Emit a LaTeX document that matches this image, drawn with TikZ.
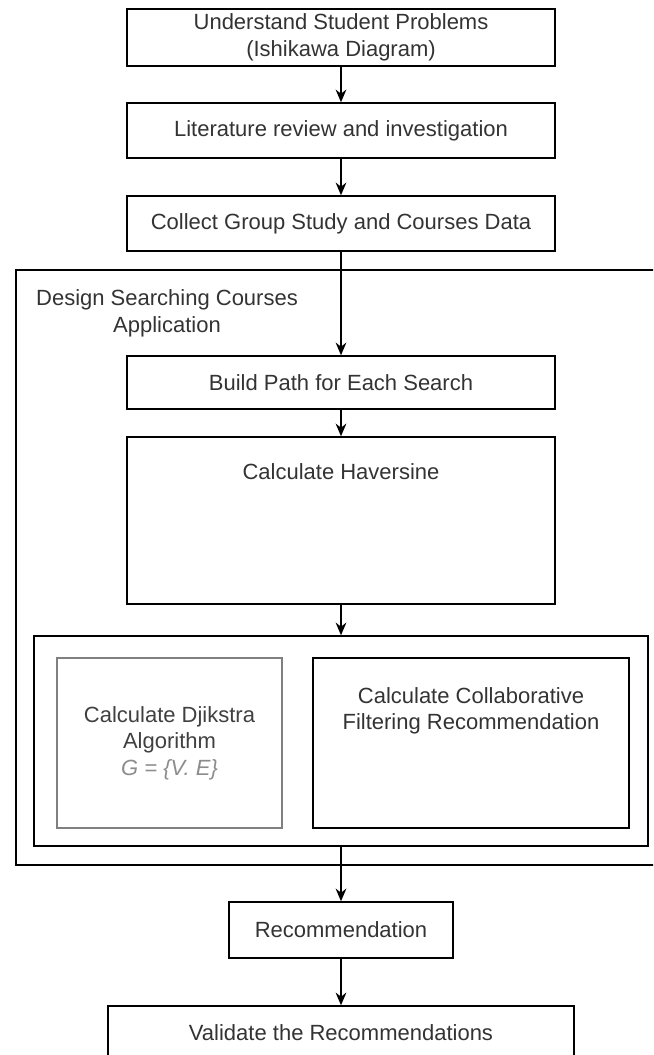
\documentclass[tikz,border=0pt]{standalone}
\usepackage{fontspec}
\setmainfont{Liberation Sans}
\usetikzlibrary{arrows.meta}
\begin{document}
\begin{tikzpicture}[x=0.75pt,y=-0.75pt]
        \tikzset{every node/.style={font=\fontsize{16.5}{20}\selectfont},
            box/.style={draw,line width=1.1pt,rectangle,minimum width=321pt,align=center,text=black!80,inner sep=0pt},
            frame/.style={draw,line width=1.1pt,rectangle,inner sep=0pt},
            grey box/.style={box,draw=black!50,line width=1.7pt,text=black!75},
            arrow/.style={draw,line width=1.1pt,-{Stealth[length=9.5pt,width=8pt]}}}
        \useasboundingbox (0,0) rectangle (653,1055);
        \clip (0,0) rectangle (653,1055);
        % frames
        \node[frame,minimum width=490.5pt,minimum height=446.25pt] (design) at (343,567.5) {};
        \node[frame,minimum width=460.5pt,minimum height=157.5pt] (inner) at (341,741) {};
        \node[align=center,text=black!80] (design label) at (167,313) {Design Searching Courses\\Application};
        % steps
        \node[box,minimum height=42.75pt] (understand) at (341,37.5) {Understand Student Problems\\(Ishikawa Diagram)};
        \node[box,minimum height=41.25pt] (literature) at (341,130.5) {Literature review and investigation};
        \node[box,minimum height=41.25pt] (collect) at (341,223.5) {Collect Group Study and Courses Data};
        \node[box,minimum height=39.75pt] (build) at (341,382.5) {Build Path for Each Search};
        \node[box,minimum height=125.25pt,
            label={[anchor=north,yshift=-17pt,text=black!80]north:Calculate Haversine}] (haversine) at (341,520.5) {};
        \node[grey box,minimum width=168.75pt,minimum height=127.5pt] (djikstra) at (169.5,743)
            {Calculate Djikstra\\Algorithm\\{\color{black!45}\itshape G = \{V. E\}}};
        \node[box,minimum width=237pt,minimum height=127.5pt,
            label={[anchor=north,yshift=-19pt,align=center,text=black!80]north:Calculate Collaborative\\Filtering Recommendation}] (collaborative) at (471,743) {};
        \node[box,minimum width=168pt,minimum height=42pt] (recommendation) at (341,930) {Recommendation};
        \node[box,minimum width=349.5pt,minimum height=40.5pt] (validate) at (341,1033) {Validate the Recommendations};
        % arrows
        \draw[arrow] (understand) -- (literature);
        \draw[arrow] (literature) -- (collect);
        \draw[arrow] (collect) -- (build);
        \draw[arrow] (build) -- (haversine);
        \draw[arrow] (haversine) -- (inner);
        \draw[arrow] (inner) -- (recommendation);
        \draw[arrow] (recommendation) -- (validate);
\end{tikzpicture}
\end{document}
